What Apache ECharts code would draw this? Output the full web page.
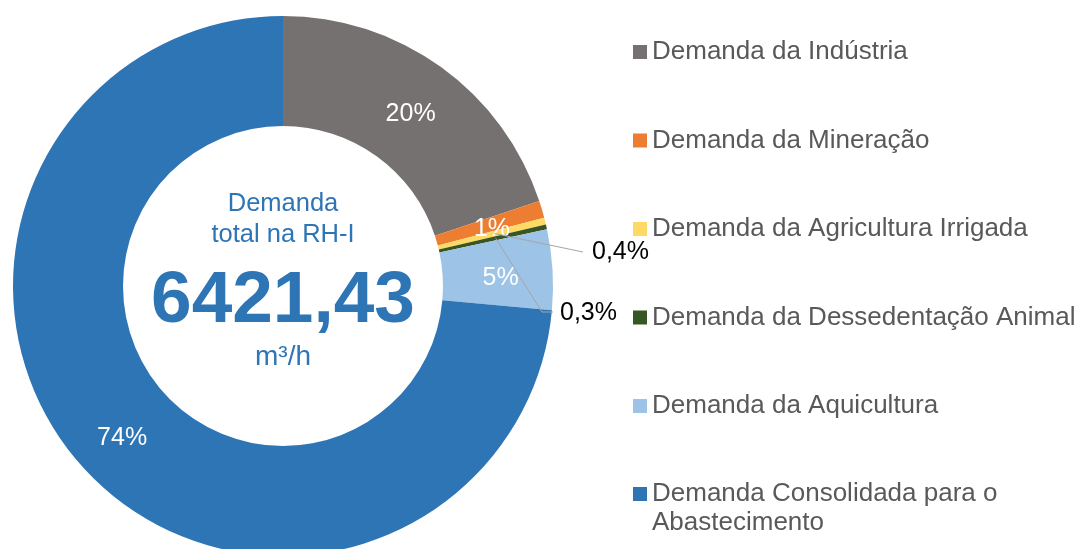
<!DOCTYPE html>
<html>
<head>
<meta charset="utf-8">
<script src="https://cdn.jsdelivr.net/npm/echarts@6/dist/echarts.min.js"></script>
<style>html,body{margin:0;padding:0;background:#fff}#c{width:1089px;height:549px}</style>
</head>
<body>
<div id="c"></div>
<script>
const categories = [
  'Demanda da Indústria',
  'Demanda da Mineração',
  'Demanda da Agricultura Irrigada',
  'Demanda da Dessedentação Animal',
  'Demanda da Aquicultura',
  'Demanda Consolidada para o Abastecimento'
];
const values = [1278, 66, 26, 19, 308, 4724]; // m³/h
const colors = ['#767171', '#ED7D31', '#FFD966', '#375623', '#9DC3E6', '#2E75B6'];
const totalLabel = '6421,43';
const lastLegendLines = ['Demanda Consolidada para o', 'Abastecimento'];

const CX = 283, CY = 286, R0 = 160, R1 = 270;
const FONT = '"Liberation Sans", Arial, sans-serif';
const total = values.reduce((a, b) => a + b, 0);

function fmt(v) {
  const p = v / total * 100;
  if (p < 1) return p.toFixed(1).replace('.', ',') + '%';
  return Math.round(p) + '%';
}

// point on the ring at the middle angle of slice i (start at top, clockwise)
function midPoint(i, r) {
  let cum = 0;
  for (let k = 0; k < i; k++) cum += values[k];
  const th = (cum + values[i] / 2) / total * Math.PI * 2;
  return [CX + r * Math.sin(th), CY - r * Math.cos(th)];
}

const outsideLabels = {
  2: { line: [[583, 252]], text: [592, 252] },
  3: { line: [[542, 312], [553, 312]], text: [560, 313] }
};

const leaderGraphics = Object.keys(outsideLabels).map(k => ({
  type: 'polyline',
  silent: true,
  shape: { points: [midPoint(+k, 218)].concat(outsideLabels[k].line) },
  style: { stroke: '#A6A6A6', lineWidth: 1, fill: null },
  z: 10
}));

const legendBase = {
  orient: 'vertical',
  left: 633,
  padding: 0,
  itemWidth: 14,
  itemHeight: 14,
  itemGap: 58.5,
  icon: 'rect',
  selectedMode: false,
  textStyle: { fontFamily: FONT, fontSize: 26, color: '#595959', lineHeight: 30 }
};

const chart = echarts.init(document.getElementById('c'), null, { renderer: 'canvas' });
chart.setOption({
  animation: false,
  backgroundColor: '#ffffff',
  color: colors,
  legend: [
    Object.assign({}, legendBase, { top: 37, height: 600, data: categories.slice(0, 5) }),
    Object.assign({}, legendBase, {
      top: 479, height: 300,
      data: [categories[5]],
      formatter: () => lastLegendLines[0]
    })
  ],
  graphic: [
    { type: 'text', x: CX, y: 204, style: { text: 'Demanda', fontFamily: FONT, fontSize: 25.5, fill: '#2E75B6', textAlign: 'center', textVerticalAlign: 'middle' } },
    { type: 'text', x: CX, y: 235, style: { text: 'total na RH-I', fontFamily: FONT, fontSize: 25.5, fill: '#2E75B6', textAlign: 'center', textVerticalAlign: 'middle' } },
    { type: 'text', x: CX, y: 302, style: { text: totalLabel, fontFamily: FONT, fontWeight: 'bold', fontSize: 73, fill: '#2E75B6', textAlign: 'center', textVerticalAlign: 'middle' } },
    { type: 'text', x: CX, y: 357, style: { text: 'm³/h', fontFamily: FONT, fontSize: 28, fill: '#2E75B6', textAlign: 'center', textVerticalAlign: 'middle' } },
    { type: 'text', x: 652, y: 523, style: { text: lastLegendLines[1], fontFamily: FONT, fontSize: 26, fill: '#595959', textAlign: 'left', textVerticalAlign: 'middle' } }
  ].concat(leaderGraphics),
  series: [{
    type: 'pie',
    center: [CX, CY],
    radius: [R0, R1],
    startAngle: 90,
    clockwise: true,
    avoidLabelOverlap: false,
    itemStyle: { borderWidth: 0 },
    emphasis: { disabled: true },
    label: {
      show: true,
      position: 'inside',
      color: '#ffffff',
      fontFamily: FONT,
      fontSize: 25,
      offset: [0, 5],
      formatter: p => fmt(p.value)
    },
    labelLine: { show: false },
    labelLayout: function (params) {
      const t = outsideLabels[params.dataIndex];
      if (!t) return {};
      return { x: t.text[0], y: t.text[1], align: 'left', verticalAlign: 'middle' };
    },
    data: categories.map((name, i) => {
      const d = { name: name, value: values[i] };
      if (outsideLabels[i]) {
        d.label = { position: 'outside', color: '#000000', fontSize: 25, offset: [0, 0] };
        d.labelLine = { show: false };
      }
      return d;
    })
  }]
});
</script>
</body>
</html>
